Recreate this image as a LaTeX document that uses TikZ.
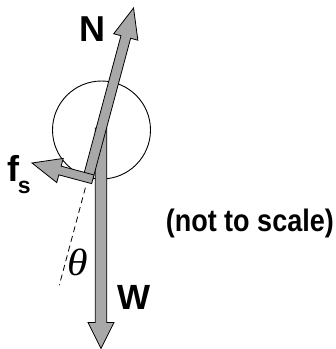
\documentclass[tikz,border=0pt]{standalone}
\usepackage{fontspec}
\setmainfont{Liberation Sans}
\newfontfamily\thetafont{Liberation Serif}
\definecolor{arrgray}{RGB}{168,168,168}
\tikzset{
  arr/.style={draw=black, line width=0.8pt, fill=arrgray, line join=miter},
  lbl/.style={inner sep=0pt, outer sep=0pt, anchor=base, font=\bfseries},
}
\newcommand\farrow[7]{\draw[arr, shift={(#1,#2)}, rotate=#3] (0,-#5/2) -- ({#4-#6},-#5/2) -- ({#4-#6},-#7/2) -- (#4,0) -- ({#4-#6},#7/2) -- ({#4-#6},#5/2) -- (0,#5/2) -- cycle;}
\begin{document}
\begin{tikzpicture}[x=1pt,y=-1pt]
\useasboundingbox (0,0) rectangle (336,349);
% disk
\node[draw=black, line width=0.9pt, circle, minimum size=98pt, inner sep=0pt] (disk) at (101.5,130) {};
% dashed reference line along the normal
\coordinate (d1) at (85.4,187.7);
\coordinate (d2) at (59.3,285.2);
\draw[line width=0.8pt, dash pattern=on 6pt off 4pt] (d1) -- (d2);
% weight W
\farrow{101}{128}{-90}{220.5}{11.5}{26}{26}
% normal N
\farrow{88}{178}{75}{176}{10}{30}{25}
% friction fs
\farrow{92.83}{179.29}{165}{63}{9}{29}{25}
% labels
\node[lbl] (N) at (92.7,41.7) {\fontsize{36}{36}\selectfont N};
\node[lbl] (W) at (133.7,309) {\fontsize{35}{35}\selectfont W};
\node[lbl, anchor=base west] (fs) at (7.5,181.7) {\fontsize{36}{36}\selectfont f\kern-1.5pt\raisebox{-11.6pt}{\fontsize{23}{23}\selectfont s}};
\node[lbl, font=\normalfont] (theta) at (78,275) {\scalebox{1.1}[1]{\thetafont\fontsize{38}{38}\selectfont\itshape θ}};
\node[lbl] (scale) at (249.8,231.5) {\scalebox{1}[1.15]{\fontsize{27}{27}\selectfont (not to scale)}};
\end{tikzpicture}
\end{document}
